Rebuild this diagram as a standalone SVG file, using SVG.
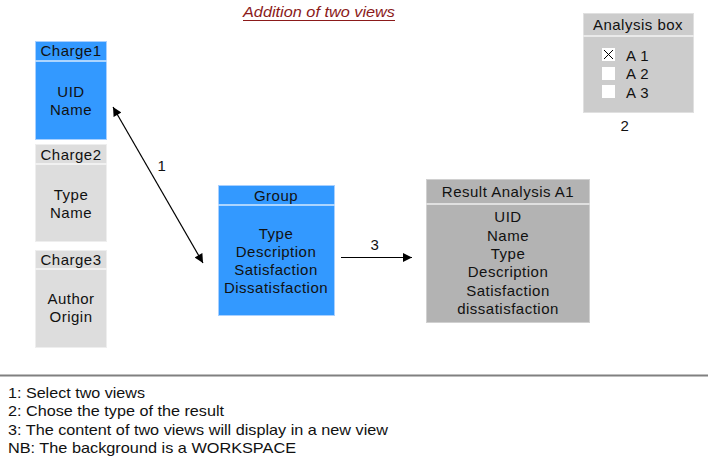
<svg xmlns="http://www.w3.org/2000/svg" width="708" height="468" viewBox="0 0 708 468">
<defs>
<style>
text{font-family:"Liberation Sans",Arial,sans-serif;font-size:15px;fill:#111;letter-spacing:0.5px}
.c{text-anchor:middle}
.blue{fill:#3399ff;stroke:#a8d0ff;stroke-width:1}
.lg{fill:#dddddd;stroke:#eeeeee;stroke-width:1}
.dg{fill:#b3b3b3;stroke:#d0d0d0;stroke-width:1}
.mg{fill:#cccccc;stroke:#e0e0e0;stroke-width:1}
.div{stroke:#ffffff;stroke-width:1.5;opacity:0.8}
.foot{font-size:14.5px;letter-spacing:0}
.conn{stroke:#000;stroke-width:1.2;fill:none}
</style>
<marker id="ah" viewBox="0 0 10 10" refX="10" refY="5" markerWidth="11" markerHeight="9" markerUnits="userSpaceOnUse" orient="auto-start-reverse">
<path d="M0,0 L10,5 L0,10 Z" fill="#000"/>
</marker>
</defs>
<rect width="708" height="468" fill="#fff"/>

<g id="title">
<text x="319" y="17" class="c" style="font-style:italic;font-size:14.5px;fill:#8b1a1a;letter-spacing:0" textLength="152" lengthAdjust="spacingAndGlyphs">Addition of two views</text>
<line x1="243" y1="20.5" x2="395" y2="20.5" stroke="#8b1a1a" stroke-width="1"/>
</g>

<g id="charge1">
<rect x="35.5" y="41.5" width="71" height="98" class="blue"/>
<line x1="35.5" y1="61" x2="106.5" y2="61" class="div"/>
<text x="71" y="56" class="c">Charge1</text>
<text x="71" y="97" class="c">UID</text>
<text x="71" y="115" class="c">Name</text>
</g>

<g id="charge2">
<rect x="35.5" y="144.5" width="71" height="97" class="lg"/>
<line x1="35.5" y1="164" x2="106.5" y2="164" class="div"/>
<text x="71" y="160" class="c">Charge2</text>
<text x="71" y="200" class="c">Type</text>
<text x="71" y="218" class="c">Name</text>
</g>

<g id="charge3">
<rect x="35.5" y="250.5" width="71" height="97" class="lg"/>
<line x1="35.5" y1="269" x2="106.5" y2="269" class="div"/>
<text x="71" y="265" class="c">Charge3</text>
<text x="71" y="304" class="c">Author</text>
<text x="71" y="322" class="c">Origin</text>
</g>

<g id="group">
<rect x="218.5" y="185.5" width="116" height="130" class="blue"/>
<line x1="218.5" y1="205" x2="334.5" y2="205" class="div"/>
<text x="276" y="201" class="c">Group</text>
<text x="276" y="239" class="c">Type</text>
<text x="276" y="257" class="c">Description</text>
<text x="276" y="275" class="c">Satisfaction</text>
<text x="276" y="293" class="c">Dissatisfaction</text>
</g>

<g id="result">
<rect x="426.5" y="179.5" width="163" height="143" class="dg"/>
<line x1="426.5" y1="204" x2="589.5" y2="204" class="div"/>
<text x="508" y="197" class="c">Result Analysis A1</text>
<text x="508" y="222" class="c">UID</text>
<text x="508" y="241" class="c">Name</text>
<text x="508" y="259" class="c">Type</text>
<text x="508" y="277" class="c">Description</text>
<text x="508" y="296" class="c">Satisfaction</text>
<text x="508" y="314" class="c">dissatisfaction</text>
</g>

<g id="analysisbox">
<rect x="583.5" y="13.5" width="110" height="99" class="mg"/>
<line x1="583.5" y1="36" x2="693.5" y2="36" class="div"/>
<text x="638" y="30" class="c">Analysis box</text>
<rect x="602" y="48" width="13" height="13" fill="#fff"/>
<path d="M604,50 L613,59 M613,50 L604,59" stroke="#000" stroke-width="1"/>
<rect x="602" y="67" width="13" height="13" fill="#fff"/>
<rect x="602" y="85" width="13" height="13" fill="#fff"/>
<text x="626" y="61">A 1</text>
<text x="626" y="79">A 2</text>
<text x="626" y="98">A 3</text>
<text x="625" y="131" class="c">2</text>
</g>

<g id="connectors">
<line x1="113" y1="107" x2="203" y2="263" class="conn" marker-start="url(#ah)" marker-end="url(#ah)"/>
<text x="162" y="171" class="c">1</text>
<line x1="341" y1="257.5" x2="412" y2="257.5" class="conn" marker-end="url(#ah)"/>
<text x="375" y="250" class="c">3</text>
</g>

<g id="legend">
<line x1="0" y1="375.5" x2="708" y2="375.5" stroke="#808080" stroke-width="2"/>
<text x="8" y="398" class="foot" textLength="137" lengthAdjust="spacingAndGlyphs">1: Select two views</text>
<text x="8" y="416" class="foot" textLength="216" lengthAdjust="spacingAndGlyphs">2: Chose the type of the result</text>
<text x="8" y="435" class="foot" textLength="380" lengthAdjust="spacingAndGlyphs">3: The content of two views will display in a new view</text>
<text x="8" y="453" class="foot" textLength="288" lengthAdjust="spacingAndGlyphs">NB: The background is a WORKSPACE</text>
</g>
</svg>
